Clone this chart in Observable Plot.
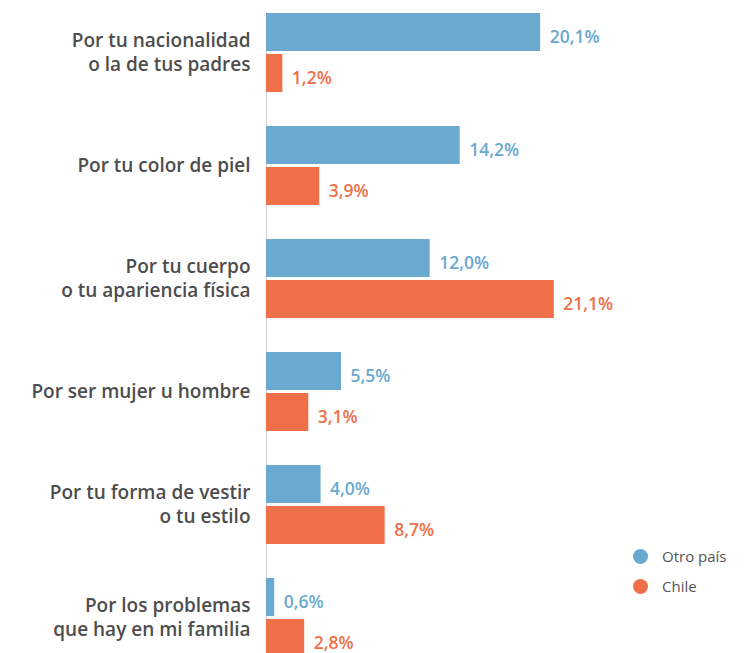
<!DOCTYPE html>
<html>
<head>
<meta charset="utf-8">
<script src="https://cdn.jsdelivr.net/npm/d3@7"></script>
<script src="https://cdn.jsdelivr.net/npm/@observablehq/plot@0.6"></script>
<style>
  html, body { margin: 0; padding: 0; background: #fff; }
  #wrap { position: relative; width: 748px; height: 653px; overflow: hidden; font-family: "Open Sans", sans-serif; }
  #legend { position: absolute; left: 633px; top: 541px; font-size: 15px; color: #555; font-weight: 500; }
  #legend .row { display: flex; align-items: center; height: 30px; }
  #legend .sw { width: 15px; height: 15px; border-radius: 50%; margin-right: 14px; }
</style>
</head>
<body>
<div id="wrap"></div>
<script>
const categories = [
  "Por tu nacionalidad\no la de tus padres",
  "Por tu color de piel",
  "Por tu cuerpo\no tu apariencia física",
  "Por ser mujer u hombre",
  "Por tu forma de vestir\no tu estilo",
  "Por los problemas\nque hay en mi familia"
];
const series = ["Otro país", "Chile"];
const otroPais = [20.1, 14.2, 12.0, 5.5, 4.0, 0.6];
const chile = [1.2, 3.9, 21.1, 3.1, 8.7, 2.8];
const colors = ["#6aa9d0", "#ef7048"];

const rows = [];
categories.forEach((c, i) => {
  rows.push({category: c, series: series[0], value: otroPais[i]});
  rows.push({category: c, series: series[1], value: chile[i]});
});
const fmt = v => v.toFixed(1).replace(".", ",") + "%";

const chart = Plot.plot({
  width: 748,
  height: 653,
  marginLeft: 266,
  marginRight: 141,
  marginTop: 10,
  marginBottom: -7,
  style: {fontFamily: "'Open Sans', sans-serif", background: "transparent"},
  x: {domain: [0, 25], axis: null},
  fy: {domain: categories, paddingInner: 0.29, paddingOuter: 0, axis: null},
  y: {domain: series, paddingInner: 0.08, paddingOuter: 0, axis: null},
  color: {domain: series, range: colors},
  marks: [
    Plot.ruleX(categories.slice(0, 1), {x: 0, fy: d => d, stroke: "#d0d0d0", strokeWidth: 1, insetBottom: -17}),
    Plot.ruleX(categories.slice(1), {x: 0, fy: d => d, stroke: "#d0d0d0", strokeWidth: 1, insetTop: -17, insetBottom: -17}),
    Plot.barX(rows, {x: "value", y: "series", fy: "category", fill: "series"}),
    Plot.text(rows, {
      x: "value", y: "series", fy: "category",
      text: d => fmt(d.value),
      fill: "series",
      textAnchor: "start", dx: 9, dy: 5,
      fontSize: 17.5, fontWeight: 600, letterSpacing: "0.3px"
    }),
    Plot.text(categories, {
      fy: d => d,
      text: d => d,
      frameAnchor: "left",
      textAnchor: "end",
      dx: -16, dy: -1,
      lineHeight: 1.25,
      fontSize: 19,
      fontWeight: 600,
      letterSpacing: "0.2px",
      fill: "#4d4d4d"
    })
  ]
});
document.getElementById("wrap").appendChild(chart);

const legend = document.createElement("div");
legend.id = "legend";
series.forEach((s, i) => {
  const row = document.createElement("div");
  row.className = "row";
  const sw = document.createElement("span");
  sw.className = "sw";
  sw.style.background = colors[i];
  const t = document.createElement("span");
  t.textContent = s;
  row.appendChild(sw);
  row.appendChild(t);
  legend.appendChild(row);
});
document.getElementById("wrap").appendChild(legend);
</script>
</body>
</html>
